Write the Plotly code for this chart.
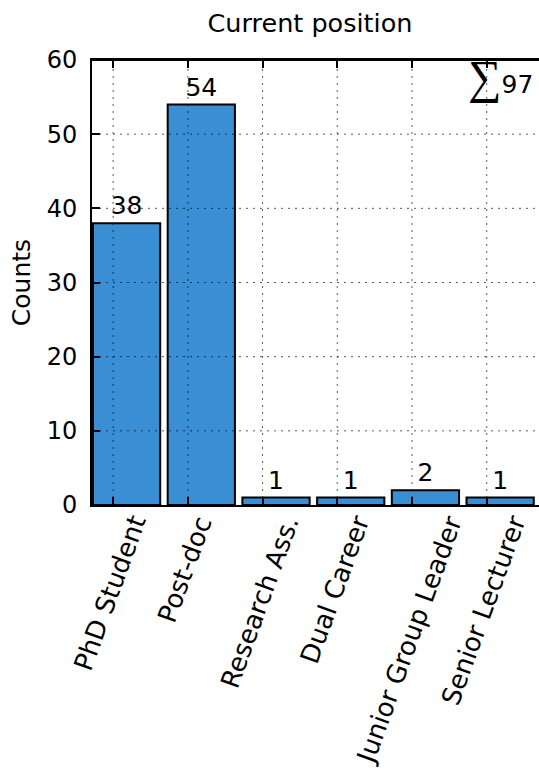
import plotly.graph_objects as go

# Survey answers: current position of respondents
categories = ["PhD Student", "Post-doc", "Research Ass.", "Dual Career",
              "Junior Group Leader", "Senior Lecturer"]
counts = [38, 54, 1, 1, 2, 1]
y_ticks = [0, 10, 20, 30, 40, 50, 60]

BAR_W = 0.9
TICK_OFF = 0.27
FONT = "DejaVu Sans"
FS = 25
BLUE = "#3a8ed3"

left_edges = list(range(len(categories)))
centers = [e + BAR_W / 2 for e in left_edges]
tick_pos = [e + TICK_OFF for e in left_edges]
x_range = [-0.013, 5.97]

fig = go.Figure()
fig.add_trace(go.Bar(
    x=centers, y=counts, width=BAR_W,
    marker=dict(color=BLUE, line=dict(color="black", width=2)),
    text=[str(c) for c in counts], textposition="outside",
    textfont=dict(family=FONT, size=FS, color="black"),
    constraintext="none", cliponaxis=False,
    showlegend=False, hoverinfo="skip",
))

# dotted grid drawn on top of the bars
grid_style = dict(color="rgba(0,0,0,0.65)", width=1, dash="2px,5px")
shapes = []
for t in tick_pos:
    shapes.append(dict(type="line", xref="x", yref="paper", x0=t, x1=t,
                       y0=0, y1=1, line=grid_style, layer="above"))
for v in y_ticks[1:-1]:
    shapes.append(dict(type="line", xref="paper", yref="y", x0=0, x1=1,
                       y0=v, y1=v, line=grid_style, layer="above"))
# top spine
shapes.append(dict(type="line", xref="paper", yref="y", x0=0, x1=1,
                   y0=y_ticks[-1], y1=y_ticks[-1],
                   line=dict(color="black", width=2), layer="above"))

# rotated category labels, centred under each tick
annotations = []
for t, name in zip(tick_pos, categories):
    annotations.append(dict(
        x=t, y=0, xref="x", yref="paper", text=name, showarrow=False,
        textangle=-70, xanchor="center", yanchor="top", yshift=-4, xshift=-3,
        font=dict(family=FONT, size=26, color="black"),
    ))

annotations.append(dict(
    x=1, y=1, xref="paper", yref="paper", xanchor="right", yanchor="top",
    xshift=-4, yshift=11, showarrow=False,
    text="<span style='font-size:47px;font-family:Liberation Serif'>∑</span>97",
    font=dict(family=FONT, size=FS, color="black"),
))

axis_common = dict(ticks="inside", ticklen=8, tickwidth=1.5, tickcolor="black",
                   showline=True, linecolor="black", linewidth=2,
                   showgrid=False, zeroline=False, layer="above traces")

fig.update_layout(
    width=539, height=775,
    margin=dict(l=92, r=0, t=60, b=270, autoexpand=False),
    paper_bgcolor="white", plot_bgcolor="white",
    font=dict(family=FONT, size=FS, color="black"),
    title=dict(text="Current position", x=(310 - 92) / 447, xref="paper",
               xanchor="center", y=1 - 23 / 775, yanchor="middle",
               font=dict(family=FONT, size=25.5, color="black")),
    # mirrored x axis adds inward ticks along the top
    xaxis=dict(range=x_range, tickvals=tick_pos, showticklabels=False,
               mirror="ticks", **axis_common),
    yaxis=dict(range=[0, 60], tickvals=y_ticks, ticklabelstandoff=8,
               tickfont=dict(family=FONT, size=24, color="black"),
               title=dict(text="Counts", standoff=9,
                          font=dict(family=FONT, size=FS, color="black")),
               **axis_common),
    shapes=shapes, annotations=annotations,
)

fig.write_html("out.html")
